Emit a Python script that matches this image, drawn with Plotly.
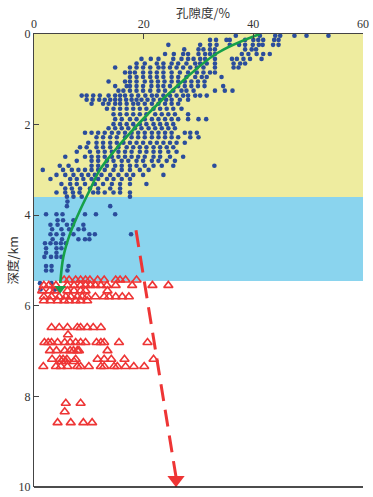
import plotly.graph_objects as go

# ---------------- data ----------------
x_ticks = [0, 20, 40, 60]
y_ticks = [0, 2, 4, 6, 8, 10]

zone_top = [0.0, 3.6]
zone_bottom = [3.6, 5.45]
zone_colors = ["#EEEC9F", "#8AD4EE"]

# blue dots: porosity values per depth row
blue_depth = [0.04, 0.13, 0.24, 0.34, 0.44, 0.55, 0.65, 0.74, 0.85, 0.95,
              1.05, 1.15, 1.25, 1.36, 1.45, 1.54, 1.65, 1.77, 1.88, 1.99,
              2.08, 2.18, 2.28, 2.40, 2.50, 2.60, 2.71, 2.80, 2.91, 3.00,
              3.11, 3.20, 3.31, 3.41, 3.50, 3.59, 3.70, 3.80, 3.98, 4.11,
              4.21, 4.31, 4.42, 4.53, 4.62, 4.73, 4.83, 4.92, 5.12, 5.22,
              5.50, 5.64]
blue_porosity = [
    [36.8, 41.2, 44.0, 44.9, 47.5, 49.7, 53.7],
    [32.1, 33.2, 35.1, 35.7, 38.5, 40.0, 40.9, 41.8, 43.8, 44.6],
    [24.5, 30.3, 32.1, 33.3, 35.7, 37.4, 38.5, 39.9, 41.0, 41.7, 43.6, 44.6],
    [27.4, 30.0, 30.9, 32.1, 33.0, 38.5, 39.7, 40.5],
    [23.9, 25.5, 27.2, 28.1, 30.0, 31.2, 32.1, 33.0, 37.9, 39.1, 40.6, 41.8, 43.0],
    [19.6, 21.3, 22.7, 25.4, 26.9, 28.1, 29.1, 30.3, 31.2, 33.0, 36.1, 37.0, 38.2, 39.4, 41.5],
    [18.7, 20.2, 22.4, 23.6, 25.1, 26.3, 27.8, 29.4, 30.3, 31.5, 33.0, 36.4, 37.6, 38.5],
    [14.8, 17.5, 18.7, 19.9, 21.2, 22.7, 23.6, 24.8, 26.0, 27.2, 28.5, 29.7, 30.9, 33.0, 36.4, 37.3],
    [16.6, 17.5, 18.4, 19.9, 21.2, 22.4, 23.6, 25.1, 26.6, 28.1, 29.7, 30.9, 32.1, 33.0],
    [17.5, 18.7, 19.9, 21.2, 22.4, 23.6, 25.1, 26.3, 27.8, 29.4, 30.6, 31.5, 34.2],
    [13.6, 16.6, 17.5, 18.7, 20.2, 21.4, 22.6, 23.8, 25.1, 26.3, 27.5, 28.7, 29.9, 31.1],
    [14.8, 16.9, 17.5, 18.7, 19.9, 21.4, 22.6, 23.6, 24.8, 26.3, 27.5, 28.7, 29.9, 31.1, 34.5],
    [15.4, 16.3, 17.5, 18.7, 19.9, 21.2, 22.7, 23.9, 25.4, 26.9, 27.8, 29.1, 33.0, 34.8, 36.2],
    [8.7, 9.6, 10.8, 12.0, 13.6, 14.8, 15.7, 16.6, 17.8, 19.0, 20.3, 21.5, 22.4, 23.6, 24.8, 26.0, 27.2, 28.1, 29.4, 30.3, 31.5],
    [9.6, 10.7, 11.9, 12.9, 13.9, 14.8, 15.7, 16.8, 17.8, 18.7, 19.6, 20.7, 21.8, 23.0, 24.1, 25.1, 26.6, 28.1],
    [10.5, 12.6, 13.6, 14.8, 15.7, 16.9, 18.1, 19.0, 20.2, 21.5, 22.7, 23.9, 25.1, 26.3],
    [13.3, 14.5, 15.7, 16.9, 18.1, 19.3, 20.5, 21.8, 23.0, 24.2, 25.4, 26.9],
    [14.5, 15.7, 16.9, 18.1, 19.3, 20.5, 22.1, 23.3, 24.5, 25.7, 28.1],
    [14.8, 16.0, 17.5, 18.7, 20.2, 21.5, 22.7, 23.9, 25.1, 26.3, 28.1, 30.0, 31.4],
    [14.5, 15.7, 16.9, 18.1, 19.3, 20.5, 21.8, 23.0, 24.2, 25.4],
    [13.6, 14.8, 16.0, 17.2, 18.4, 19.6, 20.9, 22.1, 23.3, 24.5, 25.7],
    [9.3, 10.5, 11.7, 12.9, 14.2, 15.4, 16.6, 17.8, 19.0, 20.2, 21.5, 22.7, 23.9, 25.1, 27.5, 28.5, 29.7],
    [11.4, 12.6, 13.9, 15.1, 16.6, 17.8, 19.0, 20.2, 21.5, 22.7, 23.9, 25.1, 26.3, 28.5, 30.0],
    [9.9, 11.4, 12.6, 13.9, 15.1, 16.3, 17.5, 18.7, 19.9, 21.2, 22.4, 23.6, 24.8, 26.0, 27.5],
    [8.4, 9.6, 11.4, 12.6, 13.9, 15.4, 16.9, 18.1, 19.3, 20.5, 21.8, 23.0, 24.2, 25.4],
    [7.8, 10.2, 11.7, 12.9, 14.2, 15.4, 16.6, 17.8, 19.3, 20.5, 21.8, 23.0, 24.5, 26.0],
    [5.7, 9.3, 10.5, 11.7, 12.9, 14.2, 15.4, 16.6, 17.8, 19.0, 20.2, 21.8, 23.0, 24.8, 27.2],
    [7.8, 10.5, 11.7, 13.3, 14.5, 16.0, 17.2, 18.7, 19.9, 21.5, 22.7, 24.2, 25.7],
    [4.7, 6.3, 10.5, 11.7, 13.3, 14.8, 16.0, 17.5, 18.7, 20.2, 21.8, 23.3, 25.4, 32.9],
    [1.6, 5.3, 6.9, 8.1, 9.3, 10.5, 11.7, 12.9, 14.5, 16.0, 17.5, 19.3, 20.9],
    [4.1, 5.7, 7.2, 8.7, 9.9, 11.1, 12.3, 13.9, 15.4, 16.9, 18.1, 19.9, 23.6],
    [3.0, 6.6, 7.8, 9.0, 10.5, 11.7, 13.3, 14.5, 16.0, 17.5],
    [5.0, 6.6, 7.8, 9.3, 11.1, 12.6, 14.2, 15.7, 17.5, 20.5],
    [5.7, 6.9, 8.4, 10.2, 11.7, 13.9, 15.7],
    [4.1, 5.7, 7.1, 8.3, 10.8, 11.7, 12.9, 14.5, 15.7, 17.5],
    [6.0, 7.2, 8.7, 17.5],
    [6.1],
    [6.0, 13.9],
    [2.2, 4.1, 5.2, 9.3, 11.3, 14.8],
    [4.3, 5.3, 7.2],
    [3.0, 4.3, 6.0, 7.1, 9.0],
    [3.3, 5.0, 6.4, 8.1, 9.1],
    [3.0, 4.1, 5.3, 7.2, 10.1, 11.1, 17.7],
    [3.4, 5.1, 8.1, 9.3, 10.1],
    [2.0, 3.0, 4.0, 4.9, 5.8],
    [2.2, 4.1, 5.0],
    [2.2, 4.1],
    [1.9, 3.1, 4.1, 5.0],
    [2.2, 3.2, 6.3],
    [2.2, 3.2, 6.1],
    [1.1, 3.2],
    [1.2, 3.7, 3.8],
]

# red open triangles: porosity values per depth row
tri_depth = [5.43, 5.55, 5.67, 5.80, 5.89, 6.48, 6.64, 6.81, 6.99, 7.18,
             7.23, 7.34, 8.15, 8.34, 8.58]
tri_porosity = [
    [5.5, 6.4, 7.6, 8.5, 9.4, 10.2, 11.6, 12.8, 14.9, 15.7, 16.7, 18.7],
    [1.8, 2.7, 4.0, 6.1, 7.3, 8.5, 9.4, 10.3, 11.2, 12.2, 13.3, 14.9, 17.9, 21.6, 24.5],
    [1.5, 2.9, 3.8, 6.1, 7.3, 8.5, 9.4, 13.4],
    [1.8, 3.2, 4.6, 5.8, 6.7, 7.9, 8.8, 9.7, 11.2, 12.8, 13.7, 14.9, 16.1, 17.3],
    [1.8, 3.0, 4.3, 5.5, 6.4, 7.6, 8.5, 9.7],
    [3.2, 4.6, 6.1, 7.9, 8.5, 9.7, 10.8, 12.2],
    [6.2],
    [1.9, 2.6, 3.2, 4.3, 5.6, 6.6, 7.6, 8.5, 9.4, 11.4, 12.2, 12.8, 15.5, 20.7],
    [2.9, 4.1, 5.6, 6.6, 7.2, 7.9, 8.2, 13.4],
    [3.3, 4.7, 5.3, 6.0, 7.6, 11.6, 12.8, 14.1, 16.5, 21.8],
    [5.0, 5.8, 7.3],
    [1.7, 4.0, 4.9, 6.1, 7.9, 8.5, 10.0, 12.2, 12.8, 14.6, 15.2, 16.7, 18.2, 20.1],
    [5.8, 8.5],
    [5.6],
    [4.3, 6.7, 9.0, 10.6],
]

# green trend curve
curve_porosity = [41.2, 33.3, 26.0, 21.8, 17.5, 14.8, 12.0, 10.2, 8.4, 6.6, 5.35, 4.8]
curve_depth = [0.0, 0.43, 1.16, 1.64, 2.19, 2.56, 3.00, 3.44, 3.89, 4.40, 4.92, 5.50]
curve_end_porosity = [4.8]
curve_end_depth = [5.62]

# red dashed arrow
arrow_porosity = [18.6, 25.9]
arrow_depth = [4.33, 9.78]
arrow_head_porosity = [25.9]
arrow_head_depth = [9.84]

# ---------------- build ----------------
bx = [p for row in blue_porosity for p in row]
by = [d for d, row in zip(blue_depth, blue_porosity) for _ in row]
tx = [p for row in tri_porosity for p in row]
ty = [d for d, row in zip(tri_depth, tri_porosity) for _ in row]

RED = "#EE3535"
GREEN = "#16A04A"
BLUE = "#2B4D9C"

fig = go.Figure()

fig.add_trace(go.Scatter(x=bx, y=by, mode="markers",
                         marker=dict(size=4.6, color=BLUE, line=dict(width=0)),
                         hoverinfo="skip"))
fig.add_trace(go.Scatter(x=tx, y=ty, mode="markers",
                         marker=dict(symbol="triangle-up-open", size=8, color=RED,
                                     line=dict(width=1.6, color=RED)),
                         hoverinfo="skip"))
fig.add_trace(go.Scatter(x=curve_porosity, y=curve_depth, mode="lines",
                         line=dict(color=GREEN, width=2.6, shape="spline"),
                         hoverinfo="skip"))
fig.add_trace(go.Scatter(x=curve_end_porosity, y=curve_end_depth, mode="markers",
                         marker=dict(symbol="triangle-down", size=10, color=GREEN),
                         hoverinfo="skip"))
fig.add_trace(go.Scatter(x=arrow_porosity, y=arrow_depth, mode="lines",
                         line=dict(color=RED, width=3, dash="17px,9px"),
                         hoverinfo="skip"))
fig.add_trace(go.Scatter(x=arrow_head_porosity, y=arrow_head_depth, mode="markers",
                         marker=dict(symbol="triangle-down", size=15, color=RED),
                         cliponaxis=False, hoverinfo="skip"))

shapes = []
for top, bot, col in zip(zone_top, zone_bottom, zone_colors):
    shapes.append(dict(type="rect", xref="x", yref="y", x0=0, x1=60, y0=top, y1=bot,
                       fillcolor=col, line=dict(width=0), layer="below"))
shapes.append(dict(type="line", xref="paper", yref="paper", x0=0, x1=1, y0=0, y1=0,
                   line=dict(color="#111111", width=1.5)))

tick_font = dict(family="Liberation Serif", size=12, color="#333333")

fig.update_layout(
    width=373, height=497,
    margin=dict(l=34, r=10, t=34, b=10),
    paper_bgcolor="white", plot_bgcolor="white",
    showlegend=False,
    hovermode=False,
    shapes=shapes,
    xaxis=dict(range=[0, 60], side="top", tickvals=x_ticks, automargin=False,
               fixedrange=True,
               ticks="inside", ticklen=5, tickcolor="#444444",
               showline=True, linecolor="#444444", linewidth=1,
               showgrid=False, zeroline=False, tickfont=tick_font),
    yaxis=dict(range=[10, 0], tickvals=y_ticks, automargin=False,
               fixedrange=True,
               ticks="inside", ticklen=5, tickcolor="#444444",
               showline=True, linecolor="#444444", linewidth=1,
               showgrid=False, zeroline=False, tickfont=tick_font),
    annotations=[
        dict(text="孔隙度/%", xref="paper", yref="paper", x=0.514, y=1.0,
             yshift=22, showarrow=False, xanchor="center", yanchor="middle",
             borderpad=0,
             font=dict(family="Noto Sans CJK SC", size=12.5, color="#333333")),
        dict(text="深度/km", xref="paper", yref="y", x=0.0, xshift=-22, y=5.0,
             showarrow=False, xanchor="center", yanchor="middle", textangle=-90,
             borderpad=0,
             font=dict(family="Noto Sans CJK SC", size=12.5, color="#333333")),
    ],
)

# remove the page's default body margin so the figure fills the window exactly
fig.write_html("out.html",
               config={"displayModeBar": False, "staticPlot": True},
               post_script="document.body.style.margin='0';")
